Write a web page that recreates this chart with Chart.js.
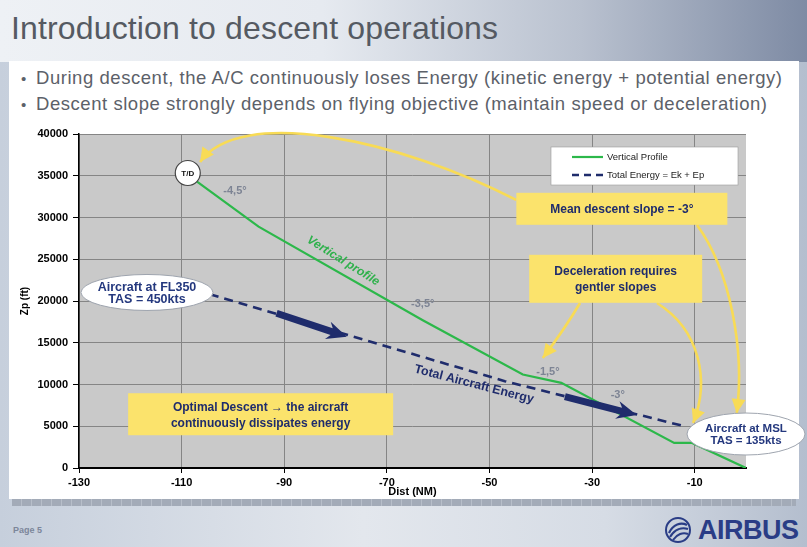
<!DOCTYPE html>
<html>
<head>
<meta charset="utf-8">
<script src="https://cdn.jsdelivr.net/npm/chart.js@4.4.0/dist/chart.umd.min.js"></script>
<style>
  html, body { margin: 0; padding: 0; }
  body {
    width: 807px; height: 547px; position: relative; overflow: hidden;
    font-family: "Liberation Sans", Arial, sans-serif;
    background: linear-gradient(90deg, #c6cfdc 0%, #e3e7ed 45%, #d6dce5 75%, #b4bece 100%);
  }
  #band {
    position: absolute; left: 0; top: 0; width: 807px; height: 62px;
    background: linear-gradient(90deg, #eef1f5 0%, #e6eaf0 40%, #b9c1cf 72%, #7e8ba4 100%);
  }
  #title {
    position: absolute; left: 11px; top: 10px; font-size: 32px; line-height: 36px;
    color: #555a62; white-space: nowrap; letter-spacing: 0.15px;
  }
  #panel {
    position: absolute; left: 9px; top: 61px; width: 790px; height: 438px; background: #fff;
  }
  #strip {
    position: absolute; left: 12px; top: 499px; width: 784px; height: 7px;
    background: repeating-linear-gradient(90deg, #a3abb8 0px, #a3abb8 9px, #b7bec9 9px, #b7bec9 10px);
  }
  .bullet {
    position: absolute; left: 21px; font-size: 18.5px; line-height: 20px; color: #5c6169;
    white-space: nowrap; letter-spacing: 0.55px;
  }
  .bullet span { display: inline-block; width: 15px; font-size: 15px; }
  #page { position: absolute; left: 13px; top: 525px; font-size: 9px; font-weight: bold; color: #7c869a; }
  #logo { position: absolute; left: 664px; top: 514px; height: 32px; display: flex; align-items: center; }
  #logo b { font-size: 27px; letter-spacing: -0.5px; color: #2a3d86; margin-left: 6px; }
  #chart { position: absolute; left: 0; top: 0; }
</style>
</head>
<body>
<div id="band"></div>
<div id="title">Introduction to descent operations</div>
<div id="panel"></div>
<div class="bullet" style="top:68px"><span>•</span>During descent, the A/C continuously loses Energy (kinetic energy + potential energy)</div>
<div class="bullet" style="top:94px"><span>•</span>Descent slope strongly depends on flying objective (maintain speed or deceleration)</div>
<div id="strip"></div>
<div id="page">Page 5</div>
<div id="logo">
  <svg width="28" height="28" viewBox="0 0 28 28">
    <circle cx="14" cy="14" r="12" fill="none" stroke="#2a3d86" stroke-width="2"/>
    <path d="M5 17 C9 8, 17 6, 23 9" fill="none" stroke="#2a3d86" stroke-width="2.2"/>
    <path d="M6 21 C11 13, 18 11, 24 13" fill="none" stroke="#2a3d86" stroke-width="2.2"/>
    <path d="M9 24 C13 18, 19 16, 24 18" fill="none" stroke="#2a3d86" stroke-width="2"/>
  </svg>
  <b>AIRBUS</b>
</div>
<canvas id="chart" width="807" height="547"></canvas>

<script>
// distance to go (NM) and pressure altitude (ft)
const profileDist = [-107, -95, -63, -43.5, -36, -14, -10.5, 0];
const profileAlt = [34300, 28900, 17700, 11200, 10200, 3000, 3000, 0];

const energyDist = [-104.5, -47, -12];
const energyAlt = [20800, 10400, 5000];

const xTickValues = [-130, -110, -90, -70, -50, -30, -10];
const yTickStep = 5000;

// slope labels along the profile
const slopeLabels = ['-4,5°', '-3,5°', '-1,5°', '-3°'];
const slopeLabelPos = [[-99.6, 33170], [-63, 19700], [-38.6, 11530], [-25, 8740]];

const FONT = '"Liberation Sans", Arial, sans-serif';
const NAVY = '#1f2c6c';
const YELLOW = '#f8db55';

const plotBg = {
  id: 'plotBg',
  beforeDraw(chart) {
    const { ctx, chartArea: a } = chart;
    ctx.save();
    ctx.fillStyle = '#c9c9c9';
    ctx.fillRect(a.left, a.top, a.right - a.left, a.bottom - a.top);
    ctx.restore();
  },
};

function arrowHead(ctx, tip, ang, len, half) {
  ctx.beginPath();
  ctx.moveTo(tip[0], tip[1]);
  ctx.lineTo(tip[0] - len * Math.cos(ang) + half * Math.sin(ang), tip[1] - len * Math.sin(ang) - half * Math.cos(ang));
  ctx.lineTo(tip[0] - len * Math.cos(ang) - half * Math.sin(ang), tip[1] - len * Math.sin(ang) + half * Math.cos(ang));
  ctx.closePath();
  ctx.fill();
}

function curvedArrow(ctx, p0, c1, c2, p3) {
  ctx.strokeStyle = YELLOW;
  ctx.fillStyle = YELLOW;
  ctx.lineWidth = 2.6;
  ctx.beginPath();
  ctx.moveTo(p0[0], p0[1]);
  ctx.bezierCurveTo(c1[0], c1[1], c2[0], c2[1], p3[0], p3[1]);
  ctx.stroke();
  arrowHead(ctx, p3, Math.atan2(p3[1] - c2[1], p3[0] - c2[0]), 14, 7);
}

function blockArrow(ctx, p0, p1) {
  const ang = Math.atan2(p1[1] - p0[1], p1[0] - p0[0]);
  const len = Math.hypot(p1[0] - p0[0], p1[1] - p0[1]);
  ctx.save();
  ctx.translate(p0[0], p0[1]);
  ctx.rotate(ang);
  ctx.fillStyle = NAVY;
  ctx.beginPath();
  ctx.moveTo(0, -3.5);
  ctx.lineTo(len - 16, -3.5);
  ctx.lineTo(len - 20, -9);
  ctx.lineTo(len, 0);
  ctx.lineTo(len - 20, 9);
  ctx.lineTo(len - 16, 3.5);
  ctx.lineTo(0, 3.5);
  ctx.closePath();
  ctx.fill();
  ctx.restore();
}

function textLines(ctx, lines, cx, cy, lh) {
  const y0 = cy - (lines.length - 1) * lh / 2;
  lines.forEach((t, i) => ctx.fillText(t, cx, y0 + i * lh));
}

const annotationLayer = {
  id: 'annotationLayer',
  afterDatasetsDraw(chart) {
    const { ctx, chartArea: a } = chart;
    const P = (pt) => [chart.scales.x.getPixelForValue(pt[0]), chart.scales.y.getPixelForValue(pt[1])];
    ctx.save();
    ctx.textAlign = 'center';
    ctx.textBaseline = 'middle';

    // slope labels
    ctx.fillStyle = '#7d8494';
    ctx.font = 'bold 11px ' + FONT;
    slopeLabels.forEach((t, i) => {
      const p = P(slopeLabelPos[i]);
      ctx.fillText(t, p[0], p[1]);
    });

    // series captions
    let p = P([-78.5, 24790]);
    ctx.save();
    ctx.translate(p[0], p[1]);
    ctx.rotate(32 * Math.PI / 180);
    ctx.fillStyle = '#2fb14c';
    ctx.font = 'italic bold 12px ' + FONT;
    ctx.fillText('Vertical profile', 0, 0);
    ctx.restore();

    p = P([-53, 10020]);
    ctx.save();
    ctx.translate(p[0], p[1]);
    ctx.rotate(14.5 * Math.PI / 180);
    ctx.fillStyle = NAVY;
    ctx.font = 'bold 12.5px ' + FONT;
    ctx.fillText('Total Aircraft Energy', 0, 0);
    ctx.restore();

    // yellow call-out arrows
    curvedArrow(ctx, P([-44.8, 32100]), P([-67.4, 39280]), P([-98.6, 43470]), P([-106.4, 36650]));
    curvedArrow(ctx, P([-9.55, 29100]), P([-3.1, 23710]), P([-0.2, 14130]), P([-1.8, 6590]));
    curvedArrow(ctx, P([-17.35, 19760]), P([-9.0, 16530]), P([-7.0, 10540]), P([-10.3, 5390]));
    curvedArrow(ctx, P([-32.35, 19760]), P([-34.5, 17500]), P([-37, 15300]), P([-39.6, 13170]));

    // yellow call-out boxes
    const boxes = [
      { at: [-24.2, 31040], w: 211, h: 32, lines: ['Mean descent slope = -3°'] },
      { at: [-25.4, 22660], w: 173, h: 48, lines: ['Deceleration requires', 'gentler slopes'] },
      { at: [-94.6, 6440], w: 265, h: 42, lines: ['Optimal Descent \u2192 the aircraft', 'continuously dissipates energy'] },
    ];
    boxes.forEach((b) => {
      const c = P(b.at);
      ctx.fillStyle = '#fbe36c';
      ctx.fillRect(c[0] - b.w / 2, c[1] - b.h / 2, b.w, b.h);
      ctx.fillStyle = NAVY;
      ctx.font = 'bold 12px ' + FONT;
      textLines(ctx, b.lines, c[0], c[1] + 1, 16);
    });

    // bubbles
    const bubbles = [
      { at: [-116.75, 21020], rx: 66, ry: 18, lines: ['Aircraft at FL350', 'TAS = 450kts'], size: 12.5 },
      { at: [0, 4070], rx: 59, ry: 21, lines: ['Aircraft at MSL', 'TAS = 135kts'], size: 11.5 },
    ];
    bubbles.forEach((b) => {
      const c = P(b.at);
      ctx.beginPath();
      ctx.ellipse(c[0], c[1], b.rx, b.ry, 0, 0, Math.PI * 2);
      ctx.fillStyle = '#fff';
      ctx.fill();
      ctx.strokeStyle = '#9ea4ae';
      ctx.lineWidth = 1;
      ctx.stroke();
      ctx.fillStyle = '#24387e';
      ctx.font = 'bold ' + b.size + 'px ' + FONT;
      textLines(ctx, b.lines, c[0], c[1] + 1, 12);
    });

    // top of descent marker
    p = P([-108.8, 35330]);
    ctx.beginPath();
    ctx.arc(p[0], p[1], 12.5, 0, Math.PI * 2);
    ctx.fillStyle = '#fff';
    ctx.fill();
    ctx.strokeStyle = '#444';
    ctx.lineWidth = 1.2;
    ctx.stroke();
    ctx.fillStyle = '#111';
    ctx.font = 'bold 8px ' + FONT;
    ctx.fillText('T/D', p[0], p[1] + 0.5);

    // energy direction arrows
    blockArrow(ctx, P([-91.5, 18530]), P([-77.8, 15720]));
    blockArrow(ctx, P([-35.3, 8540]), P([-21.3, 6350]));

    // legend box
    const lx = a.right - 195, ly = a.top + 13;
    ctx.fillStyle = '#fff';
    ctx.fillRect(lx, ly, 187, 38);
    ctx.strokeStyle = '#9a9a9a';
    ctx.lineWidth = 0.6;
    ctx.strokeRect(lx, ly, 187, 38);
    ctx.textAlign = 'left';
    ctx.font = '9.5px ' + FONT;
    ctx.lineWidth = 2.2;
    ctx.strokeStyle = '#2cb84a';
    ctx.beginPath();
    ctx.moveTo(lx + 21, ly + 10);
    ctx.lineTo(lx + 52, ly + 10);
    ctx.stroke();
    ctx.strokeStyle = NAVY;
    ctx.lineWidth = 2.4;
    ctx.setLineDash([7, 5]);
    ctx.beginPath();
    ctx.moveTo(lx + 21, ly + 28);
    ctx.lineTo(lx + 52, ly + 28);
    ctx.stroke();
    ctx.setLineDash([]);
    ctx.fillStyle = '#222';
    ctx.fillText(chart.data.datasets[0].label, lx + 56, ly + 10);
    ctx.fillText(chart.data.datasets[1].label, lx + 56, ly + 28);

    ctx.restore();
  },
};

const tickFont = { family: FONT, size: 11, weight: 'bold' };

new Chart(document.getElementById('chart').getContext('2d'), {
  type: 'line',
  data: {
    datasets: [
      {
        label: 'Vertical Profile',
        data: profileDist.map((x, i) => ({ x, y: profileAlt[i] })),
        borderColor: '#2cb84a',
        borderWidth: 2.2,
        pointRadius: 0,
        tension: 0,
        fill: false,
      },
      {
        label: 'Total Energy = Ek + Ep',
        data: energyDist.map((x, i) => ({ x, y: energyAlt[i] })),
        borderColor: NAVY,
        borderWidth: 2.6,
        borderDash: [9, 6],
        pointRadius: 0,
        tension: 0,
        fill: false,
      },
    ],
  },
  options: {
    responsive: false,
    animation: false,
    layout: { padding: { left: 10, top: 134, right: 61, bottom: 48 } },
    plugins: { legend: { display: false }, tooltip: { enabled: false } },
    scales: {
      x: {
        type: 'linear',
        min: -130,
        max: 0,
        afterBuildTicks: (s) => { s.ticks = xTickValues.map((v) => ({ value: v })); },
        afterFit: (s) => { s.height = 31; },
        ticks: { color: '#000', font: tickFont, padding: 3, maxRotation: 0, autoSkip: false, callback: (v) => String(v) },
        grid: { color: '#858585', tickColor: '#000', tickLength: 5, lineWidth: 1 },
        border: { color: '#000', width: 2 },
        title: { display: true, text: 'Dist (NM)', color: '#000', font: { family: FONT, size: 11, weight: 'bold' }, padding: { top: 0, bottom: 0 } },
      },
      y: {
        min: 0,
        max: 40000,
        afterFit: (s) => { s.width = 69; },
        ticks: { stepSize: yTickStep, color: '#000', font: tickFont, padding: 5, callback: (v) => String(v) },
        grid: { color: '#858585', tickColor: '#000', tickLength: 6, lineWidth: 1 },
        border: { color: '#000', width: 1.5 },
        title: { display: true, text: 'Zp (ft)', color: '#000', font: { family: FONT, size: 10, weight: 'bold' }, padding: { top: 9, bottom: 0 } },
      },
    },
  },
  plugins: [plotBg, annotationLayer],
});
</script>
</body>
</html>
